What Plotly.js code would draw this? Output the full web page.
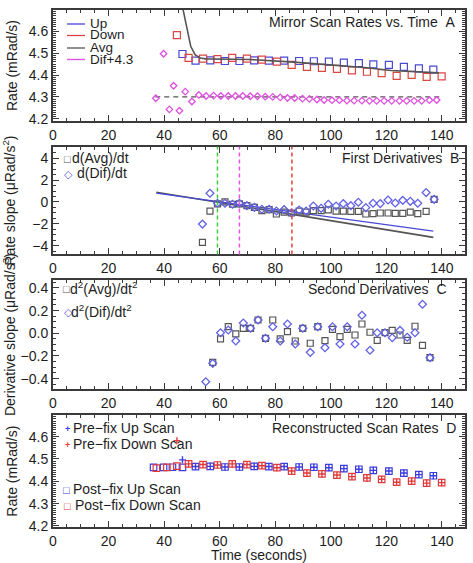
<!DOCTYPE html>
<html><head><meta charset="utf-8">
<script src="https://cdn.plot.ly/plotly-3.0.1.min.js"></script>
<style>html,body{margin:0;padding:0;background:#fff;}#plot{width:473px;height:563px;}</style>
</head><body><div id="plot"></div>
<script>
// ---------- Panel A: Mirror scan rates ----------
const upX = [46.6, 51.3, 56.6, 61.9, 67.1, 72.4, 77.7, 83.2, 88.6, 93.9, 99.3, 104.7, 110.1, 115.3, 120.9, 126.3, 131.7, 136.9];
const upY = [4.496, 4.466, 4.467, 4.464, 4.464, 4.467, 4.466, 4.466, 4.464, 4.463, 4.461, 4.457, 4.454, 4.449, 4.446, 4.437, 4.430, 4.425];
const downX = [44.6, 48.8, 54.0, 59.2, 64.5, 69.8, 75.2, 80.6, 85.9, 91.4, 96.8, 102.2, 107.6, 113.0, 118.3, 123.7, 129.1, 134.5, 139.9];
const downY = [4.582, 4.478, 4.475, 4.473, 4.478, 4.475, 4.470, 4.461, 4.446, 4.437, 4.433, 4.428, 4.421, 4.415, 4.409, 4.396, 4.401, 4.392, 4.394];
const avgX = [46.8, 48.2, 49.6, 51.2, 53.0, 55, 60, 65, 71, 79.4, 85.4, 93.7, 100.9, 107, 113, 121.7, 127.7, 133, 138.9];
const avgY = [4.70, 4.612, 4.53, 4.492, 4.478, 4.474, 4.472, 4.472, 4.471, 4.466, 4.46, 4.452, 4.445, 4.44, 4.433, 4.421, 4.418, 4.414, 4.41];
const difX = [37.0, 39.8, 41.9, 43.4, 45.5, 47.6, 50.0, 52.5, 55.1, 57.8, 60.4, 63.1, 65.7, 68.3, 71.0, 73.6, 76.4, 79.1, 81.8, 84.4, 87.0, 89.8, 92.3, 95.0, 97.6, 100.4, 103.1, 105.8, 108.4, 111.2, 113.9, 116.5, 119.2, 121.9, 124.7, 127.3, 130.0, 132.7, 135.5, 138.1];
const difY = [4.294, 4.497, 4.243, 4.351, 4.237, 4.324, 4.279, 4.309, 4.304, 4.306, 4.304, 4.304, 4.304, 4.304, 4.303, 4.303, 4.301, 4.300, 4.298, 4.295, 4.295, 4.292, 4.291, 4.288, 4.286, 4.285, 4.285, 4.283, 4.283, 4.283, 4.282, 4.282, 4.282, 4.282, 4.282, 4.282, 4.282, 4.282, 4.285, 4.286];
const difRefX = [36.8, 140.0];
const difRefY = [4.3, 4.3];

// ---------- Panel B: First derivatives ----------
const dX = [53.8, 56.5, 59.2, 61.9, 64.6, 67.1, 69.8, 72.5, 75.2, 77.8, 80.4, 83.2, 85.8, 88.6, 91.1, 93.7, 96.5, 99.1, 101.9, 104.5, 107.2, 109.9, 112.6, 115.2, 117.8, 120.6, 123.2, 125.9, 128.6, 131.3, 134.3, 137.2];
const dAvgY = [-3.70, -0.84, -0.18, 0.0, -0.21, -0.18, -0.34, -0.49, -0.80, -0.70, -1.10, -0.92, -1.01, -0.83, -0.92, -0.80, -0.80, -0.73, -0.83, -0.83, -0.86, -0.86, -1.10, -1.07, -1.01, -1.01, -1.04, -1.04, -0.92, -1.07, -0.86, 0.24];
const dDifY = [-2.02, 0.80, -0.12, -0.12, -0.21, -0.12, -0.34, -0.49, -0.67, -0.67, -0.83, -0.70, -1.01, -0.73, -0.83, -0.37, -0.58, -0.21, -0.37, -0.15, -0.34, -0.03, -0.52, -0.12, -0.15, 0.18, -0.09, 0.15, 0.06, -0.12, 0.86, 0.24];
const fitX = [37.2, 136.9];
const fitAvgY = [0.89, -3.24];
const fitDifY = [0.80, -2.66];
const markTimes = [59.2, 67.1, 86.0];
const markColors = ['#3ccc3c', '#e455e4', '#e04444'];

// ---------- Panel C: Second derivatives ----------
const d2AvgX = [57.5, 60.3, 63.1, 65.8, 68.5, 71.1, 73.8, 76.5, 79.1, 81.8, 84.4, 87.2, 89.9, 92.6, 95.3, 97.9, 100.6, 103.3, 105.9, 108.7, 111.2, 114.1, 116.7, 119.5, 122.1, 124.9, 127.5, 130.3, 133.0, 135.7];
const d2AvgY = [-0.256, -0.050, 0.058, -0.006, 0.044, 0.044, 0.117, -0.044, 0.117, -0.050, 0.014, -0.068, 0.044, -0.088, 0.058, -0.065, 0.035, -0.030, 0.035, -0.015, 0.082, 0.009, -0.062, 0.005, 0.026, -0.015, -0.062, 0.062, -0.106, -0.215];
const d2DifX = [55.0, 57.5, 60.3, 63.1, 65.8, 68.5, 71.1, 73.8, 76.5, 79.1, 81.8, 84.4, 87.2, 89.9, 92.6, 95.3, 97.9, 100.6, 103.3, 105.9, 108.7, 111.2, 114.1, 116.7, 119.5, 122.1, 124.9, 127.5, 130.3, 133.0, 135.7];
const d2DifY = [-0.427, -0.265, 0.005, 0.029, -0.068, 0.091, 0.044, 0.117, -0.044, 0.058, -0.068, 0.082, -0.094, 0.044, -0.168, 0.058, -0.127, 0.058, -0.094, 0.058, -0.094, 0.159, -0.150, 0.005, 0.005, -0.039, 0.026, -0.035, 0.005, 0.256, -0.215];

// ---------- Panel D: Reconstructed scan rates ----------
const postUpX = [36.2, 39.8, 43.0, 46.6, 51.3, 56.6, 61.9, 67.1, 72.4, 77.7, 83.2, 88.6, 93.9, 99.3, 104.7, 110.1, 115.3, 120.9, 126.3, 131.7, 136.9];
const postUpY = [4.462, 4.462, 4.463, 4.462, 4.466, 4.467, 4.464, 4.464, 4.467, 4.466, 4.466, 4.464, 4.463, 4.461, 4.457, 4.454, 4.449, 4.446, 4.437, 4.430, 4.425];
const postDownX = [37.2, 41.0, 44.6, 48.8, 54.0, 59.2, 64.5, 69.8, 75.2, 80.6, 85.9, 91.4, 96.8, 102.2, 107.6, 113.0, 118.3, 123.7, 129.1, 134.5, 139.9];
const postDownY = [4.459, 4.462, 4.468, 4.478, 4.475, 4.473, 4.478, 4.475, 4.470, 4.461, 4.446, 4.437, 4.433, 4.428, 4.421, 4.415, 4.409, 4.396, 4.401, 4.392, 4.394];

const xTickVals = [0, 20, 40, 60, 80, 100, 120, 140];

const BLUE = '#4848d4', RED = '#dc4640', GRAY = '#555555', MAG = '#e050e0';
const BLUE2 = '#6262e6', BLUED = '#3c3ce0', REDD = '#e23a3a';

const traces = [
  {x: upX, y: upY, xaxis: 'x', yaxis: 'y', mode: 'markers', marker: {symbol: 'square-open', size: 7, color: BLUE, line: {width: 1.2}}},
  {x: downX, y: downY, xaxis: 'x', yaxis: 'y', mode: 'markers', marker: {symbol: 'square-open', size: 7, color: RED, line: {width: 1.2}}},
  {x: avgX, y: avgY, xaxis: 'x', yaxis: 'y', mode: 'lines', line: {color: GRAY, width: 1.6}},
  {x: difRefX, y: difRefY, xaxis: 'x', yaxis: 'y', mode: 'lines', line: {color: GRAY, width: 1.3, dash: '5px,4px'}},
  {x: difX, y: difY, xaxis: 'x', yaxis: 'y', mode: 'markers', marker: {symbol: 'diamond-open', size: 5, color: MAG, line: {width: 1.3}}},

  {x: fitX, y: fitAvgY, xaxis: 'x2', yaxis: 'y2', mode: 'lines', line: {color: GRAY, width: 1.6}},
  {x: fitX, y: fitDifY, xaxis: 'x2', yaxis: 'y2', mode: 'lines', line: {color: BLUE, width: 1.3}},
  {x: dX, y: dAvgY, xaxis: 'x2', yaxis: 'y2', mode: 'markers', marker: {symbol: 'square-open', size: 6, color: GRAY, line: {width: 1.2}}},
  {x: dX, y: dDifY, xaxis: 'x2', yaxis: 'y2', mode: 'markers', marker: {symbol: 'diamond-open', size: 6, color: BLUE2, line: {width: 1.3}}},

  {x: d2AvgX, y: d2AvgY, xaxis: 'x3', yaxis: 'y3', mode: 'markers', marker: {symbol: 'square-open', size: 6, color: GRAY, line: {width: 1.2}}},
  {x: d2DifX, y: d2DifY, xaxis: 'x3', yaxis: 'y3', mode: 'markers', marker: {symbol: 'diamond-open', size: 6, color: BLUE2, line: {width: 1.3}}},

  {x: postUpX, y: postUpY, xaxis: 'x4', yaxis: 'y4', mode: 'markers', marker: {symbol: 'square-open', size: 6.5, color: BLUED, line: {width: 1.2}}},
  {x: postDownX, y: postDownY, xaxis: 'x4', yaxis: 'y4', mode: 'markers', marker: {symbol: 'square-open', size: 6.5, color: REDD, line: {width: 1.2}}},
  {x: upX, y: upY, xaxis: 'x4', yaxis: 'y4', mode: 'markers', marker: {symbol: 'cross-thin-open', size: 5, color: BLUED, line: {width: 1.4, color: BLUED}}},
  {x: downX, y: downY, xaxis: 'x4', yaxis: 'y4', mode: 'markers', marker: {symbol: 'cross-thin-open', size: 5, color: REDD, line: {width: 1.4, color: REDD}}}
];

const AX = '#3a3a3a';
const FONT = 'Liberation Sans, Arial, Helvetica, sans-serif';
function xax(anchor, title) {
  const a = {
    domain: [0, 1], anchor: anchor, range: [0, 148.3], tickvals: xTickVals,
    ticks: 'inside', ticklen: 6, tickwidth: 1, tickcolor: AX,
    showline: true, linewidth: 2, linecolor: AX, mirror: 'ticks',
    showgrid: false, zeroline: false,
    minor: {dtick: 5, tick0: 0, ticks: 'inside', ticklen: 3, tickwidth: 1, tickcolor: AX},
    tickfont: {size: 14, color: '#1e1e1e'}
  };
  if (title) a.title = {text: title, font: {size: 14, color: '#1e1e1e'}, standoff: 6};
  return a;
}
function yax(anchor, domain, range, dtick, minor, fmt, title, standoff) {
  return {
    domain: domain, anchor: anchor, range: range, dtick: dtick, tick0: 0, tickformat: fmt,
    ticks: 'inside', ticklen: 6, tickwidth: 1, tickcolor: AX,
    showline: true, linewidth: 2, linecolor: AX, mirror: 'ticks',
    showgrid: false, zeroline: false,
    minor: {dtick: minor, ticks: 'inside', ticklen: 3, tickwidth: 1, tickcolor: AX},
    tickfont: {size: 14, color: '#1e1e1e'},
    title: {text: title, font: {size: 14, color: '#1e1e1e'}, standoff: standoff}
  };
}

// pixel -> paper helpers for layout decorations
const L = 53, W = 412, H = 563;
const px = v => (v - L) / W;
const py = v => 1 - v / H;
function txt(x, y, text, size, color, anchor) {
  return {xref: 'paper', yref: 'paper', x: px(x), y: py(y), text: text, showarrow: false,
          xanchor: anchor || 'left', yanchor: 'middle', borderpad: 0,
          font: {size: size || 14, color: color || '#1e1e1e', family: FONT}};
}

const annotations = [
  // Panel A
  txt(457, 22, 'Mirror Scan Rates vs. Time\u00a0\u00a0A', 14, '#1e1e1e', 'right'),
  txt(89, 23.5, 'Up', 13.5), txt(89, 35, 'Down', 13.5), txt(89, 47, 'Avg', 13.5), txt(89, 59, 'Dif+4.3', 13.5),
  // Panel B
  txt(460, 158.5, 'First Derivatives\u00a0\u00a0B', 14, '#1e1e1e', 'right'),
  txt(62.5, 159, '\u25a1', 11, GRAY), txt(71, 158.5, 'd(Avg)/dt'),
  txt(62.5, 174, '\u25c7', 11, BLUE2), txt(76, 172.5, 'd(Dif)/dt'),
  // Panel C
  txt(448, 288.5, 'Second Derivatives\u00a0\u00a0C', 14, '#1e1e1e', 'right'),
  txt(62, 289, '\u25a1', 11, GRAY), txt(68.5, 288, 'd<sup>2</sup>(Avg)/dt<sup>2</sup>'),
  txt(62.5, 312, '\u25c7', 11, BLUE2), txt(70, 311, 'd<sup>2</sup>(Dif)/dt<sup>2</sup>'),
  // Panel D
  txt(457, 428, 'Reconstructed Scan Rates\u00a0\u00a0D', 14, '#1e1e1e', 'right'),
  txt(63.5, 429, '<b>+</b>', 9, BLUED), txt(72, 428, 'Pre\u2212fix Up Scan'),
  txt(63.5, 445, '<b>+</b>', 9, REDD), txt(72, 444, 'Pre\u2212fix Down Scan'),
  txt(62, 489.5, '\u25a1', 11, BLUED), txt(72, 489, 'Post\u2212fix Up Scan'),
  txt(63, 505.5, '\u25a1', 11, REDD), txt(74, 505, 'Post\u2212fix Down Scan')
];

const shapes = [
  {type: 'line', xref: 'paper', yref: 'paper', x0: px(67), x1: px(85), y0: py(24), y1: py(24), line: {color: BLUE, width: 1.3}},
  {type: 'line', xref: 'paper', yref: 'paper', x0: px(67), x1: px(85), y0: py(35.5), y1: py(35.5), line: {color: RED, width: 1.3}},
  {type: 'line', xref: 'paper', yref: 'paper', x0: px(67), x1: px(85), y0: py(48), y1: py(48), line: {color: GRAY, width: 1.3}},
  {type: 'line', xref: 'paper', yref: 'paper', x0: px(67), x1: px(85), y0: py(59.5), y1: py(59.5), line: {color: MAG, width: 1.3}}
];
markTimes.forEach((t, i) => shapes.push({type: 'line', xref: 'x2', yref: 'y2 domain', x0: t, x1: t, y0: 0, y1: 1,
  line: {color: markColors[i], width: 1.5, dash: '4px,3px'}}));

const layout = {
  width: 473, height: 563, showlegend: false,
  margin: {l: 53, r: 8, t: 0, b: 0},
  paper_bgcolor: '#fff', plot_bgcolor: '#fff',
  font: {family: FONT, size: 14, color: '#1e1e1e'},
  xaxis: xax('y'), xaxis2: xax('y2'), xaxis3: xax('y3'), xaxis4: xax('y4', 'Time (seconds)'),
  yaxis: yax('x', [0.7851, 0.9822], [4.19, 4.697], 0.1, 0.01, '.1f', 'Rate (mRad/s)', 8),
  yaxis2: yax('x2', [0.5480, 0.7394], [-4.8, 5.05], 2, 0.5, 'd', 'Rate slope (\u03bcRad/s<sup>2</sup>)', 14),
  yaxis3: yax('x3', [0.3085, 0.5027], [-0.494, 0.47], 0.2, 0.05, '.1f', 'Derivative slope (\u03bcRad/s<sup>3</sup>)', 6),
  yaxis4: yax('x4', [0.0634, 0.2629], [4.194, 4.697], 0.1, 0.01, '.1f', 'Rate (mRad/s)', 8),
  annotations: annotations, shapes: shapes
};

Plotly.newPlot('plot', traces, layout, {staticPlot: true, displayModeBar: false});
</script></body></html>
